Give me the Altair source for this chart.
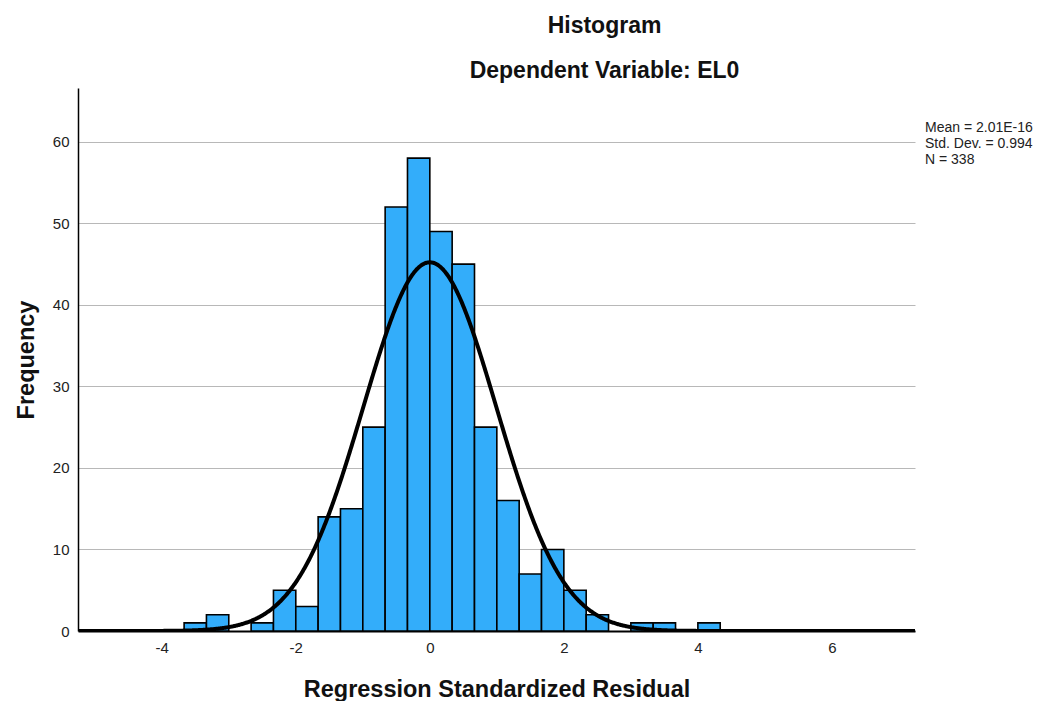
import altair as alt
import pandas as pd

# Histogram bins (width 1/3) and counts
bin_start = [-11/3, -10/3, -3, -8/3, -7/3, -2, -5/3, -4/3, -1, -2/3, -1/3, 0,
             1/3, 2/3, 1, 4/3, 5/3, 2, 7/3, 8/3, 3, 10/3, 11/3, 4]
counts = [1, 2, 0, 1, 5, 3, 14, 15, 25, 52, 58, 49,
          45, 25, 16, 7, 10, 5, 2, 0, 1, 1, 0, 1]
bin_width = 1/3

# Normal curve parameters (from the chart's legend)
mean_val = 2.01e-16
sd_val = 0.994
n_val = 338

legend_lines = ["Mean = 2.01E-16", "Std. Dev. = 0.994", "N = 338"]
x_ticks = [-4, -2, 0, 2, 4, 6]
y_ticks = [0, 10, 20, 30, 40, 50, 60]
x_domain = [-5.25, 7.24]
y_domain = [0, 66.6]

bars_df = pd.DataFrame({
    "start": bin_start,
    "end": [s + bin_width for s in bin_start],
    "count": counts,
})
bars_df = bars_df[bars_df["count"] > 0]

FONT = "Liberation Sans"
W, H = 837, 543

xscale = alt.Scale(domain=x_domain, nice=False, zero=False)
yscale = alt.Scale(domain=y_domain, nice=False)

xaxis = alt.Axis(values=x_ticks, title="Regression Standardized Residual",
                 labelExpr="'' + datum.value",
                 titleFontSize=23.5, titleFont=FONT, titleFontWeight="bold",
                 titleColor="#111", titlePadding=22,
                 labelFont=FONT, labelFontSize=15, labelColor="#222",
                 labelPadding=9, ticks=False, grid=False,
                 domainColor="black", domainWidth=2)
yaxis = alt.Axis(values=y_ticks, title="Frequency",
                 labelExpr="'' + datum.value",
                 titleFontSize=23.5, titleFont=FONT, titleFontWeight="bold",
                 titleColor="#111", titlePadding=14,
                 labelFont=FONT, labelFontSize=15, labelColor="#222",
                 labelPadding=9, ticks=False, grid=True,
                 gridColor="#b8b8b8", gridWidth=1,
                 domainColor="black", domainWidth=1.5)

bars = alt.Chart(bars_df).mark_bar(
    color="#33adfa", stroke="black", strokeWidth=1.6, opacity=1
).encode(
    x=alt.X("start:Q", scale=xscale, axis=xaxis),
    x2="end:Q",
    y=alt.Y("count:Q", scale=yscale, axis=yaxis),
    y2=alt.datum(0),
)

curve = alt.Chart(alt.sequence(x_domain[0], x_domain[1] + 0.01, 0.01, as_="x")).transform_calculate(
    y=f"{n_val} * {bin_width} * exp(-0.5 * pow((datum.x - {mean_val}) / {sd_val}, 2)) / ({sd_val} * sqrt(2 * PI))"
).mark_line(color="black", strokeWidth=4, clip=True).encode(
    x=alt.X("x:Q", scale=xscale),
    y=alt.Y("y:Q", scale=yscale),
)

legend = alt.Chart(pd.DataFrame({"a": [0]})).mark_text(
    align="left", baseline="top", font=FONT, fontSize=14, lineHeight=16, color="#222"
).encode(
    x=alt.value(W + 10),
    y=alt.value(33),
    text=alt.value(legend_lines),
)

chart = alt.layer(bars, curve, legend).properties(
    width=W, height=H,
    title=alt.TitleParams(
        text="Histogram", subtitle="Dependent Variable: EL0",
        font=FONT, fontSize=23, fontWeight="bold", color="#111",
        subtitleFont=FONT, subtitleFontSize=23, subtitleFontWeight="bold",
        subtitleColor="#111", subtitlePadding=22,
        anchor="middle", dx=108, offset=5,
    ),
    autosize=alt.AutoSizeParams(type="none"),
    padding={"left": 70, "top": 80, "right": 125, "bottom": 70},
).configure_view(stroke=None)

chart.save("out.html", embed_options={"renderer": "svg", "actions": False})
